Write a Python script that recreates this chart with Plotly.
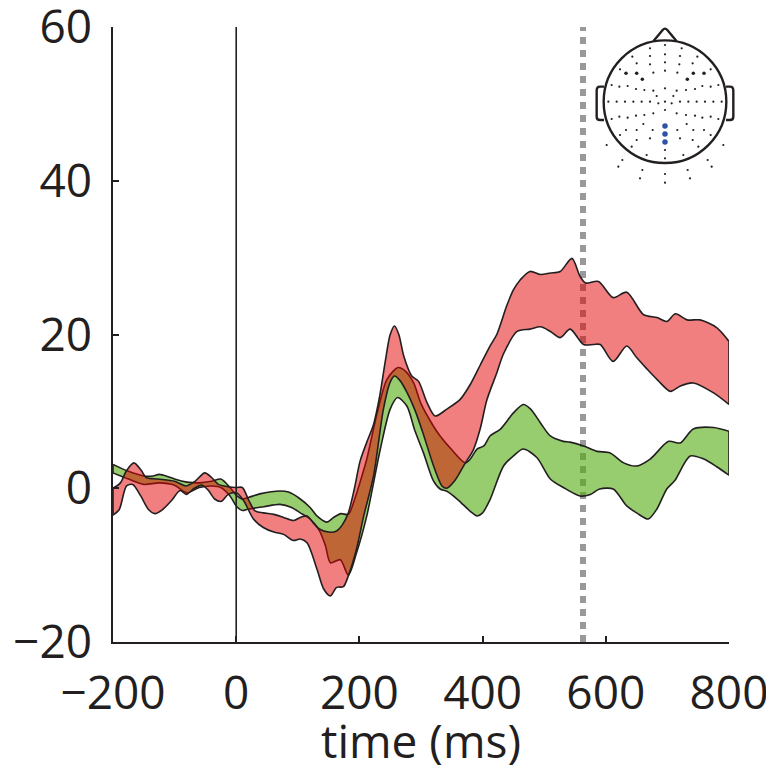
import plotly.graph_objects as go

# ---------------- data ----------------
red_up_t = [-200, -188, -178, -166, -154, -146, -127, -100, -81, -67, -51, -40, -29, -13, 0, 10, 20, 30, 44, 61, 77,
            93, 104, 115, 125, 135, 150, 162, 172, 182, 192, 201, 212, 223, 233, 242, 250, 257, 264, 272, 285, 296,
            310, 323, 342, 364, 380, 396, 412, 423, 439, 450, 461, 477, 494, 510, 526, 545, 558, 567, 588, 612, 634,
            661, 683, 699, 713, 732, 753, 780, 800]
red_up = [0.0, 0.7, 2.3, 3.3, 2.3, 1.4, 1.2, 0.9, 0.3, 0.9, 2.0, 1.4, 0.5, 0.2, 0.1, 0.1, -1.5, -2.9, -3.2, -3.4, -3.8,
          -4.2, -3.8, -3.6, -4.5, -5.3, -5.7, -5.6, -4.8, -3.2, 0.0, 3.5, 6.0, 8.3, 12.0, 16.5, 20.0, 21.1, 20.0, 17.2,
          14.6, 13.9, 11.1, 9.4, 10.3, 11.6, 13.5, 16.0, 18.5, 20.0, 23.7, 25.8, 27.1, 28.2, 27.8, 28.0, 28.2, 29.9,
          27.6, 26.7, 26.9, 24.8, 25.5, 22.6, 22.2, 21.7, 22.7, 21.9, 21.9, 20.9, 19.1]

red_lo_t = [-200, -190, -178, -168, -155, -142, -132, -120, -105, -91, -81, -68, -55, -45, -35, -24, -13, 0, 12, 28,
            44, 61, 77, 93, 104, 115, 131, 142, 153, 163, 174, 182, 195, 207, 223, 239, 250, 257, 266, 277, 290, 304,
            320, 334, 342, 355, 372, 385, 396, 407, 423, 434, 456, 477, 494, 510, 526, 542, 564, 580, 591, 612, 634,
            650, 667, 685, 705, 721, 742, 775, 800]
red_lo = [-3.5, -2.8, 0.3, 0.5, -1.0, -2.8, -3.3, -2.8, -1.6, -0.3, -0.8, 0.0, 0.4, -0.3, -1.4, -1.7, -0.8, -0.6, -1.6,
          -4.0, -5.1, -5.7, -6.0, -6.8, -6.6, -7.1, -10.5, -13.1, -14.0, -12.9, -12.8, -11.4, -8.0, -3.6, 1.6, 10.3,
          13.8, 14.6, 14.0, 12.5, 10.2, 7.0, 3.0, 0.3, 0.0, 1.0, 3.3, 5.0, 7.7, 11.5, 15.0, 17.5, 20.4, 20.7, 21.0,
          20.4, 19.6, 20.7, 18.7, 18.7, 18.7, 16.5, 18.5, 17.0, 15.5, 14.0, 12.6, 13.3, 13.7, 12.4, 10.9]

grn_up_t = [-200, -175, -150, -135, -125, -110, -100, -80, -60, -40, -25, -10, 0, 10, 20, 40, 71, 85, 104, 120, 131,
            147, 158, 170, 182, 192, 200, 212, 228, 245, 263, 275, 288, 300, 320, 331, 350, 372, 380, 391, 402, 412,
            429, 450, 466, 478, 494, 510, 531, 542, 564, 586, 607, 629, 650, 672, 702, 721, 742, 775, 800]
grn_up = [3.1, 2.2, 1.6, 1.6, 1.8, 1.5, 1.2, 0.8, 0.7, 0.9, 1.2, 0.1, -0.9, -1.4, -1.2, -0.7, -0.35, -0.5, -1.4, -2.5,
          -3.6, -4.4, -3.8, -3.3, -3.4, -1.5, 0.5, 3.8, 9.5, 14.2, 15.7, 15.2, 13.7, 11.0, 8.1, 6.8, 5.0, 3.3, 3.8,
          5.1, 5.5, 6.8, 7.7, 9.8, 10.9, 10.3, 8.5, 6.8, 6.1, 6.0, 5.5, 4.8, 4.6, 3.3, 2.9, 3.8, 6.1, 5.9, 7.7, 7.9,
          7.4]

grn_lo_t = [-200, -175, -150, -125, -100, -80, -60, -40, -25, -10, 0, 10, 20, 45, 71, 90, 104, 120, 135, 145, 153,
            169, 182, 195, 212, 234, 250, 262, 277, 290, 304, 320, 331, 342, 360, 380, 391, 400, 412, 434, 450, 466,
            488, 510, 531, 558, 575, 590, 612, 634, 650, 669, 683, 699, 712, 737, 759, 780, 800]
grn_lo = [2.0, 1.2, 0.5, 0.7, 0.4, -0.6, 0.1, 0.3, 0.1, -1.0, -2.3, -2.9, -2.7, -2.4, -2.1, -2.5, -3.2, -4.0, -5.5,
          -7.5, -9.7, -9.3, -11.3, -8.5, -3.6, 5.1, 10.3, 11.8, 10.7, 7.5, 4.6, 1.0, -0.1, -0.4, -1.5, -3.0, -3.6,
          -3.2, -1.5, 2.9, 4.2, 5.1, 4.0, 1.2, 0.1, -1.0, -0.8, -0.1, -0.1, -2.3, -3.2, -4.0, -2.7, -0.1, 1.0, 4.2,
          3.8, 2.8, 1.7]

x_ticks = [-200, 0, 200, 400, 600, 800]
y_ticks = [-20, 0, 20, 40, 60]
marker_time = 563  # grey dotted marker (ms)

# head inset (sensor positions in inset pixel units, 3x scale)
sensors_small = [(225, 75), (180, 85), (275, 85), (127, 110), (180, 108), (225, 103), (270, 108), (322, 110),
                 (140, 130), (180, 133), (225, 127), (268, 133), (308, 130), (90, 148), (190, 158), (225, 152),
                 (262, 158), (362, 148), (65, 195), (88, 200), (113, 198), (138, 207), (163, 210), (190, 212),
                 (225, 205), (260, 212), (288, 210), (315, 207), (337, 198), (362, 200), (385, 195), (200, 228),
                 (250, 228), (55, 245), (80, 245), (105, 245), (130, 245), (155, 245), (180, 245), (205, 250),
                 (225, 245), (245, 250), (270, 245), (295, 245), (320, 245), (345, 245), (370, 245), (395, 245),
                 (225, 270), (65, 297), (88, 290), (113, 293), (138, 287), (163, 285), (190, 280), (260, 280),
                 (288, 285), (315, 287), (337, 293), (362, 290), (385, 297), (90, 345), (108, 330), (140, 330),
                 (188, 330), (262, 330), (310, 330), (342, 330), (362, 345), (160, 312), (290, 312), (125, 380),
                 (140, 360), (180, 355), (270, 355), (308, 360), (325, 380), (50, 375), (400, 375), (170, 405),
                 (280, 405), (225, 390), (97, 420), (353, 420), (225, 415), (85, 440), (365, 440), (157, 450),
                 (293, 450), (225, 462), (150, 475), (300, 475), (225, 488)]
sensors_big = [(108, 160), (140, 160), (157, 178), (310, 160), (342, 160), (292, 178)]
sensors_blue = [(225, 318), (225, 342), (225, 366)]

# ---------------- styling ----------------
RED_FILL = 'rgba(229,0,0,0.5)'
GRN_FILL = 'rgba(83,172,15,0.6)'
EDGE = '#231F20'
FONT = 'Open Sans'

W, H = 766, 771
ML, MR, MT, MB = 113, 37, 27, 129
PW, PH = W - ML - MR, H - MT - MB

fig = go.Figure()


def band(t_lo, lo, t_up, up, fill):
    ln = dict(color=EDGE, width=1.6, shape='spline', smoothing=0.8)
    fig.add_trace(go.Scatter(x=t_lo, y=lo, mode='lines', line=ln, hoverinfo='skip'))
    fig.add_trace(go.Scatter(x=t_up, y=up, mode='lines', line=ln, fill='tonexty', fillcolor=fill,
                             hoverinfo='skip'))
    fig.add_trace(go.Scatter(x=[t_lo[0], t_up[0], None, t_lo[-1], t_up[-1]],
                             y=[lo[0], up[0], None, lo[-1], up[-1]],
                             mode='lines', line=dict(color=EDGE, width=1.6), hoverinfo='skip'))


band(grn_lo_t, grn_lo, grn_up_t, grn_up, GRN_FILL)
band(red_lo_t, red_lo, red_up_t, red_up, RED_FILL)

# dotted marker line (below bands) and zero line
fig.add_shape(type='line', x0=marker_time, x1=marker_time, y0=-20, y1=60, xref='x', yref='y',
              line=dict(color='rgb(153,153,153)', width=6, dash='7px,6px'), layer='below')
fig.add_shape(type='line', x0=0, x1=0, y0=-20, y1=60, xref='x', yref='y',
              line=dict(color=EDGE, width=1.6), layer='above')


# ---- head inset (paper-referenced) ----
def hx(zx):
    return (590 + zx / 3 - ML) / PW


def hy(zy):
    return (H - MB - (20 + zy / 3)) / PH


fig.add_shape(type='circle', xref='paper', yref='paper', x0=hx(41), x1=hx(409), y0=hy(429), y1=hy(61),
              line=dict(color=EDGE, width=2.4), fillcolor='rgba(0,0,0,0)')

nose = (f'M {hx(190):.5f},{hy(64):.5f} L {hx(218):.5f},{hy(30):.5f} Q {hx(225):.5f},{hy(22):.5f} '
        f'{hx(232):.5f},{hy(30):.5f} L {hx(260):.5f},{hy(64):.5f}')
fig.add_shape(type='path', xref='paper', yref='paper', path=nose, line=dict(color=EDGE, width=2.4))
for s in (1, -1):
    def ex(v):
        return hx(225 + s * (v - 225))
    ear = (f'M {ex(42):.5f},{hy(200):.5f} L {ex(30):.5f},{hy(200):.5f} Q {ex(20):.5f},{hy(200):.5f} '
           f'{ex(20):.5f},{hy(212):.5f} L {ex(20):.5f},{hy(290):.5f} Q {ex(20):.5f},{hy(300):.5f} '
           f'{ex(30):.5f},{hy(300):.5f} L {ex(42):.5f},{hy(300):.5f}')
    fig.add_shape(type='path', xref='paper', yref='paper', path=ear, line=dict(color=EDGE, width=2.4))

# sensors on an overlay axis expressed in the inset pixel units
XR = [3 * (ML - 590), 3 * (ML + PW - 590)]
YR = [3 * (H - MB - 20), 3 * (MT - 20)]
fig.add_trace(go.Scatter(x=[p[0] for p in sensors_small], y=[p[1] for p in sensors_small], mode='markers',
                         marker=dict(size=2.2, color=EDGE), xaxis='x2', yaxis='y2', hoverinfo='skip'))
fig.add_trace(go.Scatter(x=[p[0] for p in sensors_big], y=[p[1] for p in sensors_big], mode='markers',
                         marker=dict(size=3.5, color=EDGE), xaxis='x2', yaxis='y2', hoverinfo='skip'))
fig.add_trace(go.Scatter(x=[p[0] for p in sensors_blue], y=[p[1] for p in sensors_blue], mode='markers',
                         marker=dict(size=5.5, color='#2E52A6'), xaxis='x2', yaxis='y2', hoverinfo='skip'))

fig.update_layout(
    width=W, height=H,
    margin=dict(l=ML, r=MR, t=MT, b=MB, pad=0, autoexpand=False),
    paper_bgcolor='white', plot_bgcolor='white',
    showlegend=False,
    font=dict(family=FONT, color=EDGE, size=46),
    xaxis=dict(range=[-200, 800], tickmode='array', tickvals=x_ticks, ticks='inside', ticklen=6, tickwidth=1.5,
               tickcolor=EDGE, showline=True, linecolor=EDGE, linewidth=1.6, showgrid=False, zeroline=False,
               tickfont=dict(size=46, family=FONT, color=EDGE), ticklabelstandoff=10, ticklabeloverflow='allow',
               automargin=False,
               title=dict(text='time (ms)', font=dict(size=46, family=FONT, color=EDGE), standoff=0)),
    yaxis=dict(range=[-20, 60], tickmode='array', tickvals=y_ticks, ticks='inside', ticklen=6, tickwidth=1.5,
               tickcolor=EDGE, showline=True, linecolor=EDGE, linewidth=1.6, showgrid=False, zeroline=False,
               tickfont=dict(size=46, family=FONT, color=EDGE), ticklabelstandoff=10, ticklabeloverflow='allow',
               automargin=False),
    xaxis2=dict(overlaying='x', range=XR, visible=False, showgrid=False, zeroline=False, fixedrange=True),
    yaxis2=dict(overlaying='y', range=YR, visible=False, showgrid=False, zeroline=False, fixedrange=True),
)

fig.write_html('out.html')
